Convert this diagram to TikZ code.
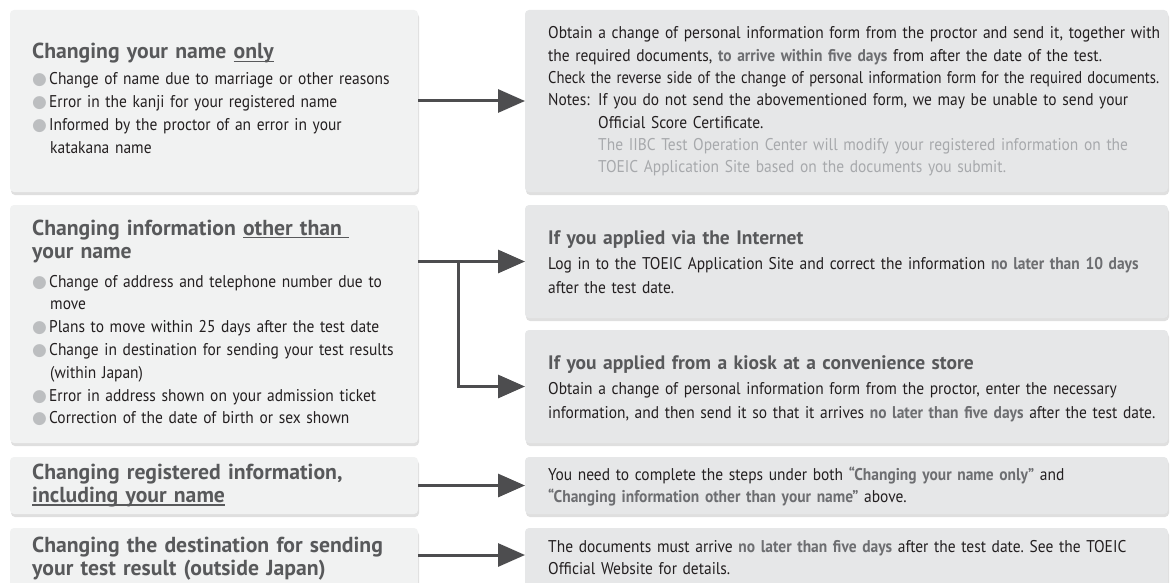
\documentclass[tikz,border=0pt]{standalone}
\usepackage{fontspec}
\setmainfont{PT Sans}[FakeStretch=0.91]
\newfontfamily\headfont{PT Sans}
\newfontfamily\symfont{DejaVu Sans}
\usepackage{xcolor}
\usepackage{graphicx}
\usetikzlibrary{arrows.meta, positioning, shadows}
\frenchspacing

\definecolor{leftfill}{HTML}{F1F2F2}
\definecolor{rightfill}{HTML}{E6E7E8}
\definecolor{headgray}{HTML}{58595B}
\definecolor{bodyblack}{HTML}{231F20}
\definecolor{emphgray}{HTML}{6D6E71}
\definecolor{notegray}{HTML}{A7A9AC}
\definecolor{dotgray}{HTML}{BCBEC0}
\definecolor{arrowgray}{HTML}{4D4D4F}

\newsavebox{\ulbox}
\newcommand{\ulin}[1]{\leavevmode\sbox{\ulbox}{#1}\rlap{\rule[-3pt]{\wd\ulbox}{1.3pt}}\usebox{\ulbox}}
\newcommand{\dotitem}{\makebox[17pt][l]{\textcolor{dotgray}{\symfont\char"25CF}}}
\newcommand{\hl}[1]{\textcolor{emphgray}{\bfseries #1}}
\newcommand{\notes}{\makebox[50pt][l]{Notes:}}

\tikzset{
  box/.style={rectangle, rounded corners=4pt, inner sep=0pt, outer sep=0pt,
    drop shadow={opacity=0.25, shadow xshift=1pt, shadow yshift=-3pt}},
  leftbox/.style={box, fill=leftfill, minimum width=408pt},
  rightbox/.style={box, fill=rightfill, minimum width=643pt},
  txt/.style={anchor=base west, inner sep=0pt, text width=900pt, align=left, text=bodyblack},
  lefthead/.style={txt, text=headgray, font=\headfont\bfseries\fontsize{21.7}{23.5}\selectfont},
  leftbody/.style={txt, font=\fontsize{17}{22.8}\selectfont},
  righthead/.style={txt, text=headgray, font=\headfont\bfseries\fontsize{19.5}{24}\selectfont},
  rightbody/.style={txt, font=\fontsize{17}{22.3}\selectfont},
  flow/.style={arrowgray, line width=3pt, -{Triangle[length=27pt, width=23pt]}}
}

\begin{document}
\begin{tikzpicture}[x=1pt, y=-1pt]
  \useasboundingbox (0,0) rectangle (1175,583);
  \clip (0,0) rectangle (1175,583);
  % left column
  \node[leftbox, minimum height=182pt] (L1) at (214,101) {};
  \node[leftbox, minimum height=238pt] (L2) at (214,324) {};
  \node[leftbox, minimum height=57pt] (L3) at (214,485.5) {};
  \node[leftbox, minimum height=72pt] (L4) at (214,564) {};
  % right column
  \node[rightbox, minimum height=182pt] (R1) at (846.5,101) {};
  \node[rightbox, minimum height=113pt] (R2) at (846.5,261.5) {};
  \node[rightbox, minimum height=113pt] (R3) at (846.5,386.5) {};
  \node[rightbox, minimum height=57pt] (R4) at (846.5,485.5) {};
  \node[rightbox, minimum height=72pt] (R5) at (846.5,564) {};

  \node[lefthead] (L1h) at (32,59) {Changing your name \ulin{only}};
  \node[leftbody] (L1b) at (32,85) {\dotitem Change of name due to marriage or other reasons\\
    \dotitem Error in the kanji for your registered name\\
    \dotitem Informed by the proctor of an error in your\\
    \hspace*{18pt}katakana name};

  \node[lefthead] (L2h) at (32,235) {Changing information \ulin{other than\ }\\your name};
  \node[leftbody] (L2b) at (32,287) {\dotitem Change of address and telephone number due to\\
    \hspace*{18pt}move\\
    \dotitem Plans to move within 25 days after the test date\\
    \dotitem Change in destination for sending your test results\\
    \hspace*{18pt}(within Japan)\\
    \dotitem Error in address shown on your admission ticket\\
    \dotitem Correction of the date of birth or sex shown};

  \node[lefthead] (L3h) at (32,479) {Changing registered information,\\\ulin{including your name}};
  \node[lefthead] (L4h) at (32,552) {Changing the destination for sending\\your test result (outside Japan)};

  \node[rightbody] (R1b) at (548,39) {Obtain a change of personal information form from the proctor and send it, together with\\
    the required documents, \hl{to arrive within five days} from after the date of the test.\\
    \resizebox{611pt}{\height}{Check the reverse side of the change of personal information form for the required documents.}\\
    \notes If you do not send the abovementioned form, we may be unable to send your\\
    \hspace*{50pt}Official Score Certificate.\\
    \hspace*{50pt}\textcolor{notegray}{The IIBC Test Operation Center will modify your registered information on the}\\
    \hspace*{50pt}\textcolor{notegray}{TOEIC Application Site based on the documents you submit.}};

  \node[righthead] (R2h) at (548,244) {If you applied via the Internet};
  \node[rightbody, font=\fontsize{17}{24}\selectfont] (R2b) at (548,269) {Log in to the TOEIC Application Site and correct the information \hl{no later than 10 days}\\
    after the test date.};

  \node[righthead] (R3h) at (548,369) {If you applied from a kiosk at a convenience store};
  \node[rightbody, font=\fontsize{17}{24}\selectfont] (R3b) at (548,394) {Obtain a change of personal information form from the proctor, enter the necessary\\
    information, and then send it so that it arrives \hl{no later than five days} after the test date.};

  \node[rightbody] (R4b) at (548,480) {You need to complete the steps under both \hl{“Changing your name only”} and\\
    \hl{“Changing information other than your name”} above.};
  \node[rightbody] (R5b) at (548,552) {The documents must arrive \hl{no later than five days} after the test date. See the TOEIC\\
    Official Website for details.};

  % arrows
  \draw[flow] (L1.east) -- (R1.west);
  \draw[flow] (L2.east |- R2.west) -- (R2.west);
  \coordinate (fork) at ([xshift=40pt]L2.east |- R2.west);
  \draw[flow] (fork) |- (R3.west);
  \draw[flow] (L3.east) -- (R4.west);
  \draw[flow] ([yshift=9pt]L4.east) -- ([yshift=9pt]R5.west);
\end{tikzpicture}
\end{document}
